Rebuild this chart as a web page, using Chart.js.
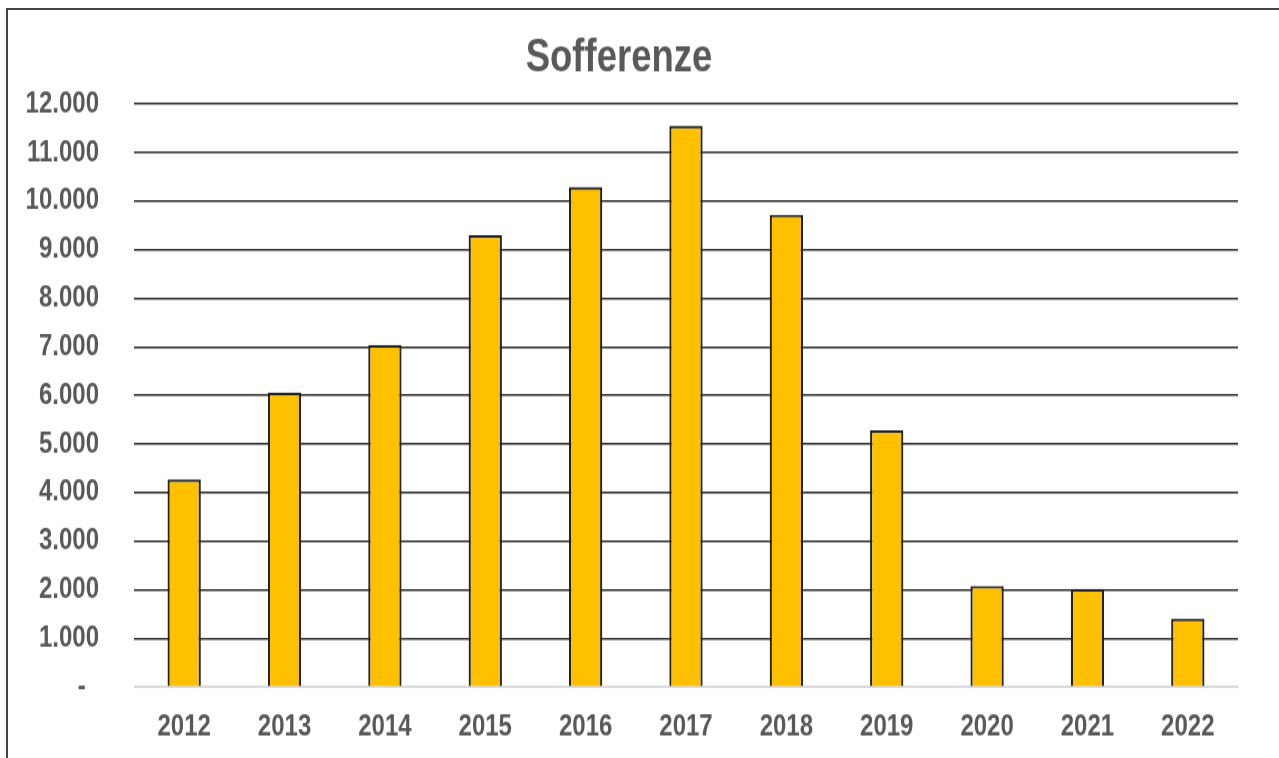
<!DOCTYPE html>
<html>
<head>
<meta charset="utf-8">
<script src="https://cdn.jsdelivr.net/npm/chart.js@4/dist/chart.umd.min.js"></script>
<style>
html,body{margin:0;padding:0;background:#fff;overflow:hidden;width:1279px;height:758px;}
#frame{position:absolute;left:6px;top:8px;width:1400px;height:900px;border:2px solid #444;box-sizing:border-box;}
#c{position:absolute;left:0;top:0;width:1279px !important;height:758px !important;}
</style>
</head>
<body>
<div id="frame"></div>
<canvas id="c" width="1279" height="606" style="width:1279px;height:758px;"></canvas>
<script>
const categories = ['2012','2013','2014','2015','2016','2017','2018','2019','2020','2021','2022'];
const sofferenze = [4270, 6060, 7040, 9300, 10290, 11550, 9720, 5280, 2080, 2020, 1410];
const chartTitle = 'Sofferenze';
const yTickValues = [0,1000,2000,3000,4000,5000,6000,7000,8000,9000,10000,11000,12000];

function fmt(v){
  if (v === 0) return '-  ';
  return String(v).replace(/\B(?=(\d{3})+(?!\d))/g, '.');
}

new Chart(document.getElementById('c'), {
  type: 'bar',
  data: {
    labels: categories,
    datasets: [{
      label: chartTitle,
      data: sofferenze,
      backgroundColor: '#FFC000',
      borderColor: '#222222',
      borderWidth: 2.2,
      categoryPercentage: 1,
      barPercentage: 0.332
    }]
  },
  options: {
    responsive: false,
    devicePixelRatio: 1,
    animation: false,
    layout: { padding: { left: 0, right: 41, top: 0, bottom: 0 } },
    plugins: {
      legend: { display: false },
      tooltip: { enabled: false },
      title: {
        display: true,
        text: chartTitle,
        color: '#595959',
        font: { family: 'Liberation Sans', size: 36.5, weight: 'bold', lineHeight: 1.2 },
        padding: { top: 25.5, bottom: 13.8 }
      }
    },
    scales: {
      x: {
        grid: { display: false, drawTicks: false },
        border: { display: true, color: '#d9d9d9', width: 1 },
        ticks: {
          color: '#595959',
          font: { family: 'Liberation Sans', size: 24, weight: 'bold', lineHeight: 1.2 },
          padding: 17.5,
          maxRotation: 0
        },
        afterFit: function(s){ s.height = 606 - 549.2; }
      },
      y: {
        min: 0, max: 12000,
        afterBuildTicks: function(s){ s.ticks = yTickValues.map(v => ({ value: v })); },
        grid: {
          drawTicks: false,
          color: ctx => (ctx.tick && ctx.tick.value === 0) ? '#d9d9d9' : '#2a2a2a',
          lineWidth: 1.6
        },
        border: { display: false },
        ticks: {
          color: '#595959',
          font: { family: 'Liberation Sans', size: 24, weight: 'bold', lineHeight: 1.2 },
          padding: 35,
          callback: v => fmt(v)
        },
        afterFit: function(s){ s.width = 134; }
      }
    }
  }
});
</script>
</body>
</html>
